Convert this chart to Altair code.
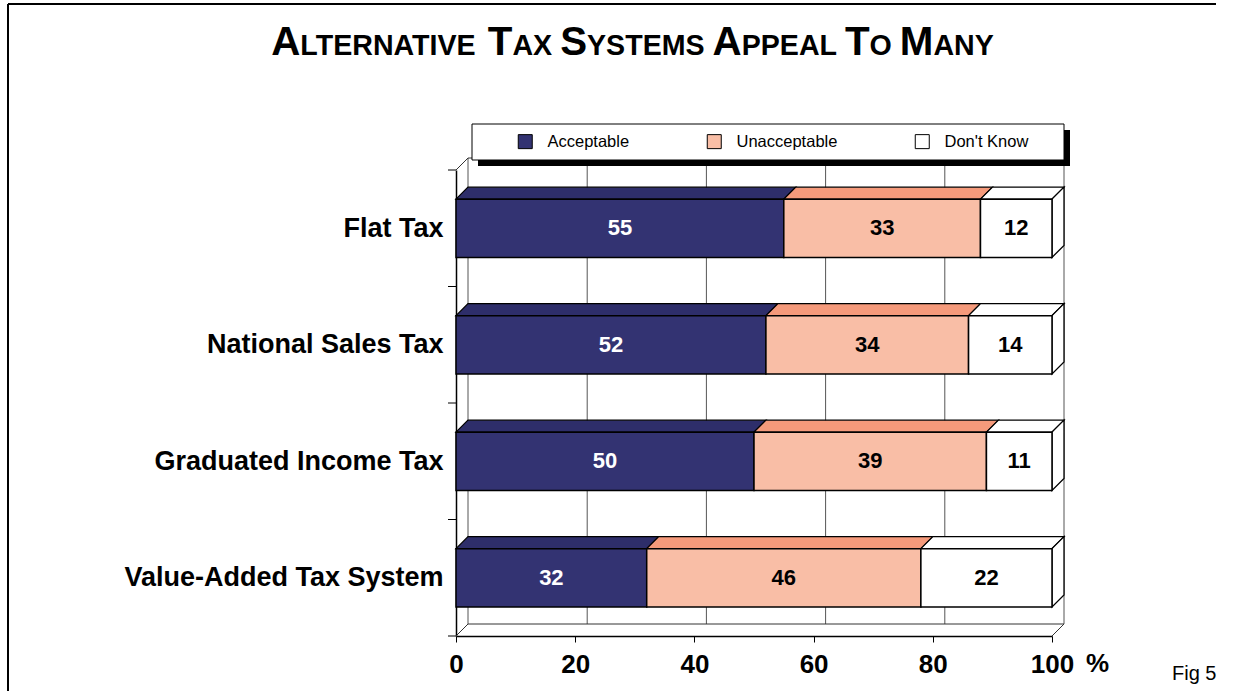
import json
import altair as alt
import pandas as pd

# ---------------- data ----------------
categories = ["Flat Tax", "National Sales Tax", "Graduated Income Tax", "Value-Added Tax System"]
statuses = ["Acceptable", "Unacceptable", "Don't Know"]
acceptable = [55, 52, 50, 32]
unacceptable = [33, 34, 39, 46]
dont_know = [12, 14, 11, 22]
x_ticks = [0, 20, 40, 60, 80, 100]
title_words = [("A", "LTERNATIVE"), ("T", "AX"), ("S", "YSTEMS"), ("A", "PPEAL"), ("T", "O"), ("M", "ANY")]

# ---------------- style ----------------
front_colors = ["#333372", "#F9BEA6", "#FFFFFF"]
top_colors = ["#2E2E6A", "#F59A7B", "#FFFFFF"]
label_colors = ["white", "black", "black"]
FONT = "Liberation Sans"
W, H = 596, 466
DEPTH = 12
DX = DEPTH * 100 / W
DY = DEPTH * len(categories) / H
BAR_LO, BAR_HI = 0.25, 0.75
n = len(categories)

xs = alt.Scale(domain=[0, 100], nice=False, zero=False)
ys = alt.Scale(domain=[0, n], reverse=True, nice=False, zero=False)

label_expr = json.dumps(categories) + "[floor(datum.value)]"
x_axis = alt.Axis(
    values=x_ticks, title=None, grid=False, tickSize=6, tickColor="black",
    domainColor="black", domainWidth=1.5, labelFont=FONT, labelFontSize=26,
    labelFontWeight="bold", labelColor="black", labelPadding=9, labelFlush=False,
    labelOverlap=False, format="d")
y_axis = alt.Axis(
    values=[i + 0.5 for i in range(n)], labelExpr=label_expr, ticks=False, tickSize=0,
    title=None, grid=False, domainColor="black", domainWidth=1.5, labelFont=FONT,
    labelFontSize=27, labelFontWeight="bold", labelColor="black", labelPadding=13,
    labelOverlap=False, labelLimit=500)

# ---------------- derived tables ----------------
series = [acceptable, unacceptable, dont_know]
seg_rows, top_rows, right_rows = [], [], []
for i, cat in enumerate(categories):
    start = 0
    yt, yb = i + BAR_LO, i + BAR_HI
    for s, st in enumerate(statuses):
        v = series[s][i]
        a, b = start, start + v
        seg_rows.append(dict(cat=cat, status=st, start=a, end=b, mid=(a + b) / 2,
                             yt=yt, yb=yb, ym=i + 0.5, value=v))
        pts = [(a, yt, yt), (a + DX, yt - DY, yt), (b, yt - DY, yt), (b + DX, yt - DY, yt - DY)]
        for px, py, py2 in pts:
            top_rows.append(dict(poly=f"{i}-{s}", status=st, x=px, y=py, y2=py2))
        start = b
    rpts = [(yt - DY, start + DX, start + DX), (yt, start, start + DX),
            (yb - DY, start, start + DX), (yb, start, start)]
    for py, px, px2 in rpts:
        right_rows.append(dict(poly=str(i), y=py, x=px, x2=px2))
seg = pd.DataFrame(seg_rows)
tops = pd.DataFrame(top_rows)
rights = pd.DataFrame(right_rows)

grid = pd.DataFrame({"x": [t + DX for t in x_ticks], "y": -DY, "y2": n - DY})
walls = pd.DataFrame([
    dict(x=DX, y=-DY, x2=100 + DX, y2=-DY),
    dict(x=DX, y=n - DY, x2=100 + DX, y2=n - DY),
    dict(x=0, y=0, x2=DX, y2=-DY),
    dict(x=0, y=n, x2=DX, y2=n - DY),
    dict(x=100, y=n, x2=100 + DX, y2=n - DY),
])
bounds = pd.DataFrame({"y": list(range(n + 1))})
one = pd.DataFrame({"k": [0]})


def X(f):
    return alt.X(f, scale=xs, axis=x_axis)


def Y(f):
    return alt.Y(f, scale=ys, axis=y_axis)


layers = []

# frame
layers.append(alt.Chart(one).mark_rule(color="black", strokeWidth=2).encode(
    x=alt.value(-448), x2=alt.value(760), y=alt.value(-166)))
layers.append(alt.Chart(one).mark_rule(color="black", strokeWidth=2).encode(
    x=alt.value(-448), y=alt.value(-166), y2=alt.value(H + 60)))

# back wall grid + wall / floor edges
layers.append(alt.Chart(grid).mark_rule(color="#555555", strokeWidth=1).encode(
    x=X("x:Q"), y=Y("y:Q"), y2="y2:Q"))
layers.append(alt.Chart(walls).mark_rule(color="#333333", strokeWidth=1).encode(
    x=X("x:Q"), x2="x2:Q", y=Y("y:Q"), y2="y2:Q"))

# category boundary ticks on the left
layers.append(alt.Chart(bounds).mark_rule(color="black", strokeWidth=1).encode(
    x=alt.value(-8), x2=alt.value(0), y=Y("y:Q")))

# top faces
for s, st in enumerate(statuses):
    layers.append(alt.Chart(tops[tops.status == st]).mark_area(
        orient="vertical", fill=top_colors[s], stroke="black", strokeWidth=1.3, opacity=1
    ).encode(x=X("x:Q"), y=Y("y:Q"), y2="y2:Q", detail="poly:N"))

# right faces
layers.append(alt.Chart(rights).mark_area(
    orient="horizontal", fill="white", stroke="black", strokeWidth=1.3, opacity=1
).encode(y=Y("y:Q"), x=X("x:Q"), x2="x2:Q", detail="poly:N"))

# front faces
layers.append(alt.Chart(seg).mark_rect(stroke="black", strokeWidth=1.5, opacity=1).encode(
    x=X("start:Q"), x2="end:Q", y=Y("yt:Q"), y2="yb:Q",
    color=alt.Color("status:N", sort=statuses,
                    scale=alt.Scale(domain=statuses, range=front_colors),
                    legend=alt.Legend(
                        orient="none", legendX=61, legendY=-37, direction="horizontal",
                        title=None, symbolType="square", symbolSize=196,
                        symbolStrokeColor="black", symbolStrokeWidth=1, symbolOpacity=1,
                        labelFont=FONT, labelFontSize=16.5, labelColor="black",
                        labelOffset=14, columnPadding=75, padding=0)),
))

# value labels
for s, st in enumerate(statuses):
    layers.append(alt.Chart(seg[seg.status == st]).mark_text(
        font=FONT, fontSize=22, fontWeight="bold", color=label_colors[s], baseline="middle"
    ).encode(x=X("mid:Q"), y=Y("ym:Q"), text=alt.Text("value:Q", format="d")))

# legend box with shadow
layers.append(alt.Chart(one).mark_rect(fill="black").encode(
    x=alt.value(22), x2=alt.value(614), y=alt.value(-40), y2=alt.value(-4)))
layers.append(alt.Chart(one).mark_rect(fill="white", stroke="black", strokeWidth=1).encode(
    x=alt.value(16), x2=alt.value(608), y=alt.value(-46), y2=alt.value(-10)))

# percent sign after the 100 label
layers.append(alt.Chart(one).mark_text(
    text="%", font=FONT, fontSize=26, fontWeight="bold", align="left", baseline="top", color="black"
).encode(x=alt.value(W + 34), y=alt.value(H + 6 + 9)))

# Fig 5
layers.append(alt.Chart(one).mark_text(
    text="Fig 5", font=FONT, fontSize=20, align="left", baseline="alphabetic", color="black"
).encode(x=alt.value(716), y=alt.value(H + 44)))

# title in small caps
BIG, SMALL = 40.3, 28.6
widths = dict(A=722, B=722, C=722, D=722, E=667, F=611, G=778, H=722, I=278, J=556, K=722,
              L=611, M=833, N=722, O=778, P=667, Q=778, R=722, S=667, T=611, U=722, V=667,
              W=944, X=667, Y=667, Z=611)
space = 0.278 * SMALL
pieces = []
cur = 0.0
for w, (big, rest) in enumerate(title_words):
    pieces.append((big, BIG, cur))
    cur += widths[big] / 1000 * BIG
    pieces.append((rest, SMALL, cur))
    cur += sum(widths[c] for c in rest) / 1000 * SMALL
    if w < len(title_words) - 1:
        cur += space
title_center = 176.5
x0 = title_center - cur / 2
for txt, size, off in pieces:
    layers.append(alt.Chart(one).mark_text(
        text=txt, font=FONT, fontSize=size, fontWeight="bold", align="left",
        baseline="alphabetic", color="black"
    ).encode(x=alt.value(x0 + off), y=alt.value(-115)))

chart = alt.layer(*layers).properties(
    width=W, height=H,
    padding={"left": 456, "top": 170, "right": 1256 - 456 - W, "bottom": 691 - 170 - H},
    autosize=alt.AutoSizeParams(type="none"),
    background="white",
).configure_view(stroke=None)

chart.save("out.html", embed_options={"renderer": "svg", "actions": False})
